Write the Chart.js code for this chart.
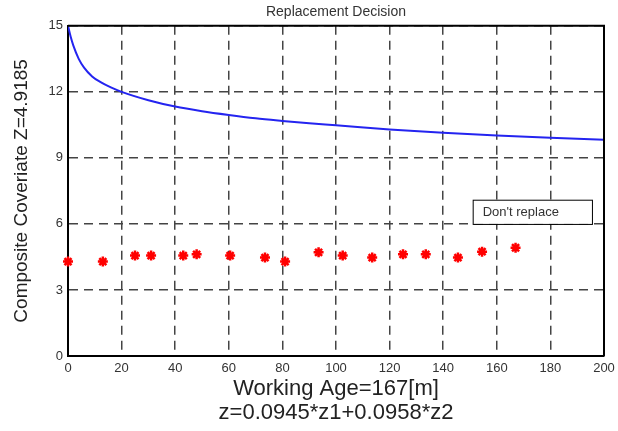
<!DOCTYPE html>
<html>
<head>
<meta charset="utf-8">
<script src="https://cdn.jsdelivr.net/npm/chart.js@4.4.1/dist/chart.umd.min.js"></script>
<style>
  html, body { margin: 0; padding: 0; background: #fff; }
  canvas { display: block; }
</style>
</head>
<body>
<canvas id="chart" width="618" height="431"></canvas>
<script>
// ─── data ───
const xTickValues = [0, 20, 40, 60, 80, 100, 120, 140, 160, 180, 200];
const yTickValues = [0, 3, 6, 9, 12, 15];

// replacement threshold curve
const limitAge = [0, 1, 2, 4, 6, 9, 12, 16, 20, 30, 40, 50, 60, 70, 80, 90, 100, 120, 140, 160, 180, 200];
const limitZ   = [15, 14.5, 14.1, 13.5, 13.1, 12.7, 12.45, 12.2, 12.0, 11.62, 11.33, 11.12, 10.95, 10.8, 10.68, 10.57, 10.48, 10.29, 10.14, 10.02, 9.92, 9.82];

// inspection points
const obsAge = [0, 13, 25, 31, 43, 48, 60.5, 73.5, 81, 93.5, 102.5, 113.5, 125, 133.5, 145.5, 154.5, 167];
const obsZ   = [4.29, 4.29, 4.56, 4.56, 4.56, 4.62, 4.56, 4.47, 4.29, 4.71, 4.56, 4.47, 4.62, 4.62, 4.47, 4.74, 4.9185];

// decision note, in data coordinates
const noteText = "Don't replace";
const noteBox = { x0: 151, x1: 195.5, y0: 7.1, y1: 6.0 };

const FONT = "'Liberation Sans', Arial, Helvetica, sans-serif";

// top/right frame + decision note
const framePlugin = {
  id: 'frame',
  afterDraw(chart) {
    const { ctx, chartArea: a, scales: { x, y } } = chart;
    ctx.save();
    ctx.strokeStyle = '#000';
    ctx.lineWidth = 2;
    ctx.beginPath();
    ctx.moveTo(a.left, a.top);
    ctx.lineTo(a.right, a.top);
    ctx.lineTo(a.right, a.bottom);
    ctx.stroke();

    const bx = x.getPixelForValue(noteBox.x0);
    const bw = x.getPixelForValue(noteBox.x1) - bx;
    const by = y.getPixelForValue(noteBox.y0);
    const bh = y.getPixelForValue(noteBox.y1) - by;
    ctx.fillStyle = '#fff';
    ctx.fillRect(bx, by, bw, bh);
    ctx.lineWidth = 1;
    ctx.strokeRect(bx + 0.5, by + 0.5, bw, bh);
    ctx.fillStyle = '#333';
    ctx.font = '13px ' + FONT;
    ctx.textBaseline = 'middle';
    ctx.fillText(noteText, bx + 10, by + bh / 2 + 1);
    ctx.restore();
  }
};

const gridStyle = { color: '#444', lineWidth: 1.5, drawTicks: false };

new Chart(document.getElementById('chart'), {
  type: 'scatter',
  data: {
    datasets: [
      {
        type: 'line',
        data: limitAge.map((v, i) => ({ x: v, y: limitZ[i] })),
        borderColor: '#2424f0',
        borderWidth: 2,
        pointRadius: 0,
        cubicInterpolationMode: 'monotone',
        fill: false
      },
      {
        data: obsAge.map((v, i) => ({ x: v, y: obsZ[i] })),
        pointStyle: 'star',
        pointRadius: 5,
        borderWidth: 2.5,
        borderColor: '#ff0000',
        backgroundColor: '#ff0000',
        clip: false
      }
    ]
  },
  options: {
    responsive: false,
    animation: false,
    layout: { padding: { left: 0, right: 14, top: 0, bottom: 0 } },
    plugins: {
      legend: { display: false },
      tooltip: { enabled: false },
      title: {
        display: true,
        text: 'Replacement Decision',
        fullSize: false,
        color: '#333',
        font: { family: FONT, size: 14, weight: 'normal', lineHeight: 1.2 },
        padding: { top: 4, bottom: 5 }
      }
    },
    scales: {
      x: {
        type: 'linear',
        min: 0,
        max: 200,
        afterBuildTicks: s => { s.ticks = xTickValues.map(v => ({ value: v })); },
        afterFit: s => { s.height = 75; s.paddingLeft = 0; s.paddingRight = 0; },
        grid: gridStyle,
        border: { display: true, color: '#000', width: 2, dash: [9, 6] },
        ticks: { color: '#333', padding: 5, maxRotation: 0, font: { family: FONT, size: 13 } },
        title: {
          display: true,
          text: ['Working Age=167[m]', 'z=0.0945*z1+0.0958*z2'],
          color: '#222',
          font: { family: FONT, size: 22, lineHeight: 1.05 },
          padding: { top: 0, bottom: 7 }
        }
      },
      y: {
        type: 'linear',
        min: 0,
        max: 15,
        afterBuildTicks: s => { s.ticks = yTickValues.map(v => ({ value: v })); },
        afterFit: s => { s.width = 68; s.paddingTop = 0; s.paddingBottom = 0; },
        grid: gridStyle,
        border: { display: true, color: '#000', width: 2, dash: [9, 6] },
        ticks: { color: '#333', padding: 5, font: { family: FONT, size: 13 } },
        title: {
          display: true,
          text: 'Composite Coveriate Z=4.9185',
          color: '#222',
          font: { family: FONT, size: 19, lineHeight: 1.2 },
          padding: { top: 10, bottom: 0 }
        }
      }
    }
  },
  plugins: [framePlugin]
});
</script>
</body>
</html>
